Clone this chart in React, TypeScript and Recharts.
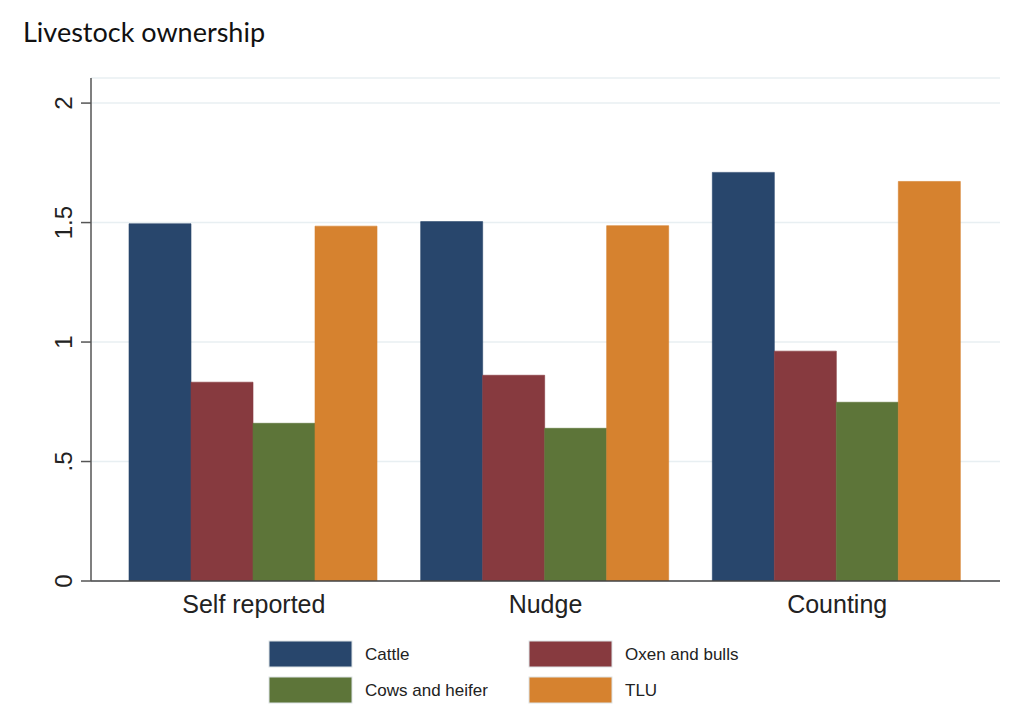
import { Bar, BarChart, CartesianGrid, XAxis, YAxis } from 'recharts'

const groups = ['Self reported', 'Nudge', 'Counting']
const cattle = [1.495, 1.504, 1.71]
const oxenBulls = [0.832, 0.861, 0.962]
const cowsHeifer = [0.66, 0.639, 0.748]
const tlu = [1.485, 1.487, 1.672]
const yTicks = [0, 0.5, 1, 1.5, 2]
const yTickLabels = ['0', '.5', '1', '1.5', '2']

const series = [
  { key: 'cattle', name: 'Cattle', color: '#28466c', values: cattle },
  { key: 'oxen', name: 'Oxen and bulls', color: '#873a3f', values: oxenBulls },
  { key: 'cows', name: 'Cows and heifer', color: '#5d7539', values: cowsHeifer },
  { key: 'tlu', name: 'TLU', color: '#d6822f', values: tlu },
]

const data = groups.map((g, i) => {
  const row: Record<string, string | number> = { group: g }
  series.forEach((s) => {
    row[s.key] = s.values[i]
  })
  return row
})

const axisFont = '"Liberation Sans", Arial, sans-serif'

function YTick({ x, y, payload }: any) {
  const idx = yTicks.indexOf(payload.value)
  const label = idx >= 0 ? yTickLabels[idx] : String(payload.value)
  return (
    <text
      x={x - 7}
      y={y}
      transform={`rotate(-90, ${x - 7}, ${y})`}
      textAnchor="middle"
      fontSize={24}
      fontFamily={axisFont}
      fill="#222"
    >
      {label}
    </text>
  )
}

function XTick({ x, y, payload }: any) {
  return (
    <text x={x} y={y + 32} textAnchor="middle" fontSize={25} fontFamily={axisFont} fill="#222">
      {payload.value}
    </text>
  )
}

// legend: two columns, two rows
const legendCols = [269, 529]
const legendRows = [641, 677]

export default function App() {
  return (
    <div style={{ position: 'relative', width: 1024, height: 726, background: '#fff' }}>
      <style>{'body{margin:0}'}</style>
      <BarChart
        width={1024}
        height={726}
        data={data}
        margin={{ top: 78, right: 24, bottom: 105, left: 0 }}
        barCategoryGap={21}
        barGap={0}
      >
        <CartesianGrid horizontal vertical={false} stroke="#e8eff2" strokeWidth={1.5} />
        <XAxis
          dataKey="group"
          height={40}
          padding={{ left: 17, right: 17 }}
          tickLine={false}
          tickSize={0}
          tickMargin={0}
          axisLine={{ stroke: '#444', strokeWidth: 1.5 }}
          tick={<XTick />}
        />
        <YAxis
          width={91}
          domain={[0, 2.105]}
          ticks={yTicks}
          allowDataOverflow
          tickSize={10}
          axisLine={{ stroke: '#555', strokeWidth: 1.5 }}
          tickLine={{ stroke: '#555', strokeWidth: 1.5 }}
          tick={<YTick />}
        />
        {series.map((s) => (
          <Bar
            key={s.key}
            dataKey={s.key}
            name={s.name}
            fill={s.color}
            stroke={s.color}
            strokeOpacity={0.6}
            isAnimationActive={false}
          />
        ))}
      </BarChart>
      <svg
        width={1024}
        height={726}
        style={{ position: 'absolute', left: 0, top: 0, pointerEvents: 'none' }}
      >
        <text x={23} y={42} fontSize={27} fontFamily="Lato, 'Open Sans', sans-serif" fill="#111">
          Livestock ownership
        </text>
        {series.map((s, i) => {
          const cx = legendCols[i % 2]
          const cy = legendRows[Math.floor(i / 2)]
          return (
            <g key={s.key}>
              <rect x={cx} y={cy} width={83} height={26} fill={s.color} stroke="#dde3e6" strokeWidth={1} />
              <text x={cx + 96} y={cy + 19} fontSize={17} fontFamily={axisFont} fill="#222">
                {s.name}
              </text>
            </g>
          )
        })}
      </svg>
    </div>
  )
}
